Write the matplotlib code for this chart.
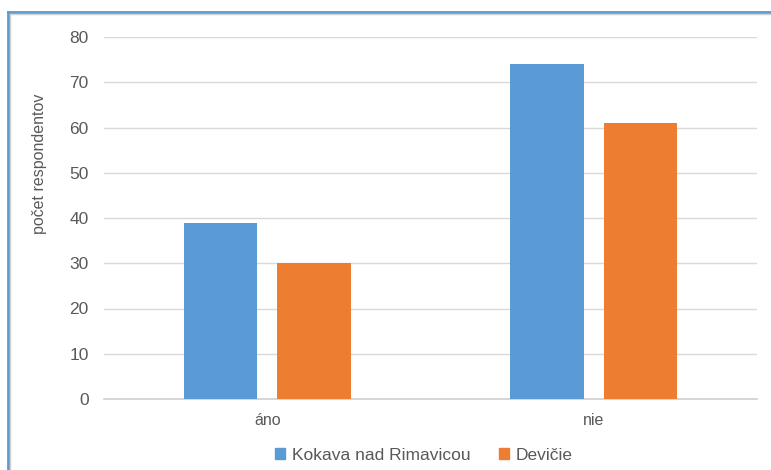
import numpy as np
import matplotlib.pyplot as plt
from matplotlib.lines import Line2D
from matplotlib.patches import Patch

plt.rcParams['font.family'] = ['Liberation Sans', 'DejaVu Sans']

# data
categories = ['áno', 'nie']
series_names = ['Kokava nad Rimavicou', 'Devičie']
kokava = [39, 74]
devicie = [30, 61]
y_ticks = [0, 10, 20, 30, 40, 50, 60, 70, 80]

blue = '#5b9bd5'
orange = '#ed7d31'
gray_text = '#595959'

fig = plt.figure(figsize=(7.71, 4.70), dpi=100)
ax = fig.add_axes([104 / 771, 1 - 399 / 470, 653 / 771, 362 / 470])

x = np.arange(len(categories))
w = 0.224
off = 0.143
ax.bar(x - off, kokava, w, color=blue, zorder=3)
ax.bar(x + off, devicie, w, color=orange, zorder=3)

ax.set_xlim(-0.5, 1.5)
ax.set_ylim(0, 80)
ax.set_yticks(y_ticks)
ax.set_xticks(x)
ax.set_xticklabels(categories)
ax.grid(axis='y', color='#d9d9d9', linewidth=1, zorder=0)
for s in ['top', 'right', 'left']:
    ax.spines[s].set_visible(False)
ax.spines['bottom'].set_color('#d0d0d0')
ax.spines['bottom'].set_linewidth(1.2)
ax.tick_params(axis='both', length=0, colors=gray_text)
ax.tick_params(axis='y', pad=11, labelsize=12.5)
ax.tick_params(axis='x', pad=10, labelsize=11.5)

fig.text(40 / 771, 1 - 164 / 470, 'počet respondentov', rotation=90,
         ha='center', va='center', color=gray_text, fontsize=11.5)

handles = [Patch(color=blue), Patch(color=orange)]
fig.legend(handles, series_names, loc='center', bbox_to_anchor=(424 / 771, 1 - 455 / 470),
           ncol=2, frameon=False, fontsize=12.5, handlelength=0.6, handleheight=0.6,
           handletextpad=0.4, columnspacing=1.6, labelcolor=gray_text)

# outer frame
fig.add_artist(Line2D([8 / 771, 8 / 771], [0, 1 - 12 / 470], color=blue, linewidth=2))
fig.add_artist(Line2D([8 / 771, 1], [1 - 12 / 470, 1 - 12 / 470], color=blue, linewidth=2))
fig.add_artist(Line2D([10 / 771, 10 / 771], [0, 1 - 14 / 470], color='#d0d0d0', linewidth=1))
fig.add_artist(Line2D([10 / 771, 1], [1 - 14 / 470, 1 - 14 / 470], color='#d0d0d0', linewidth=1))

fig.savefig('out.png', dpi=100)
